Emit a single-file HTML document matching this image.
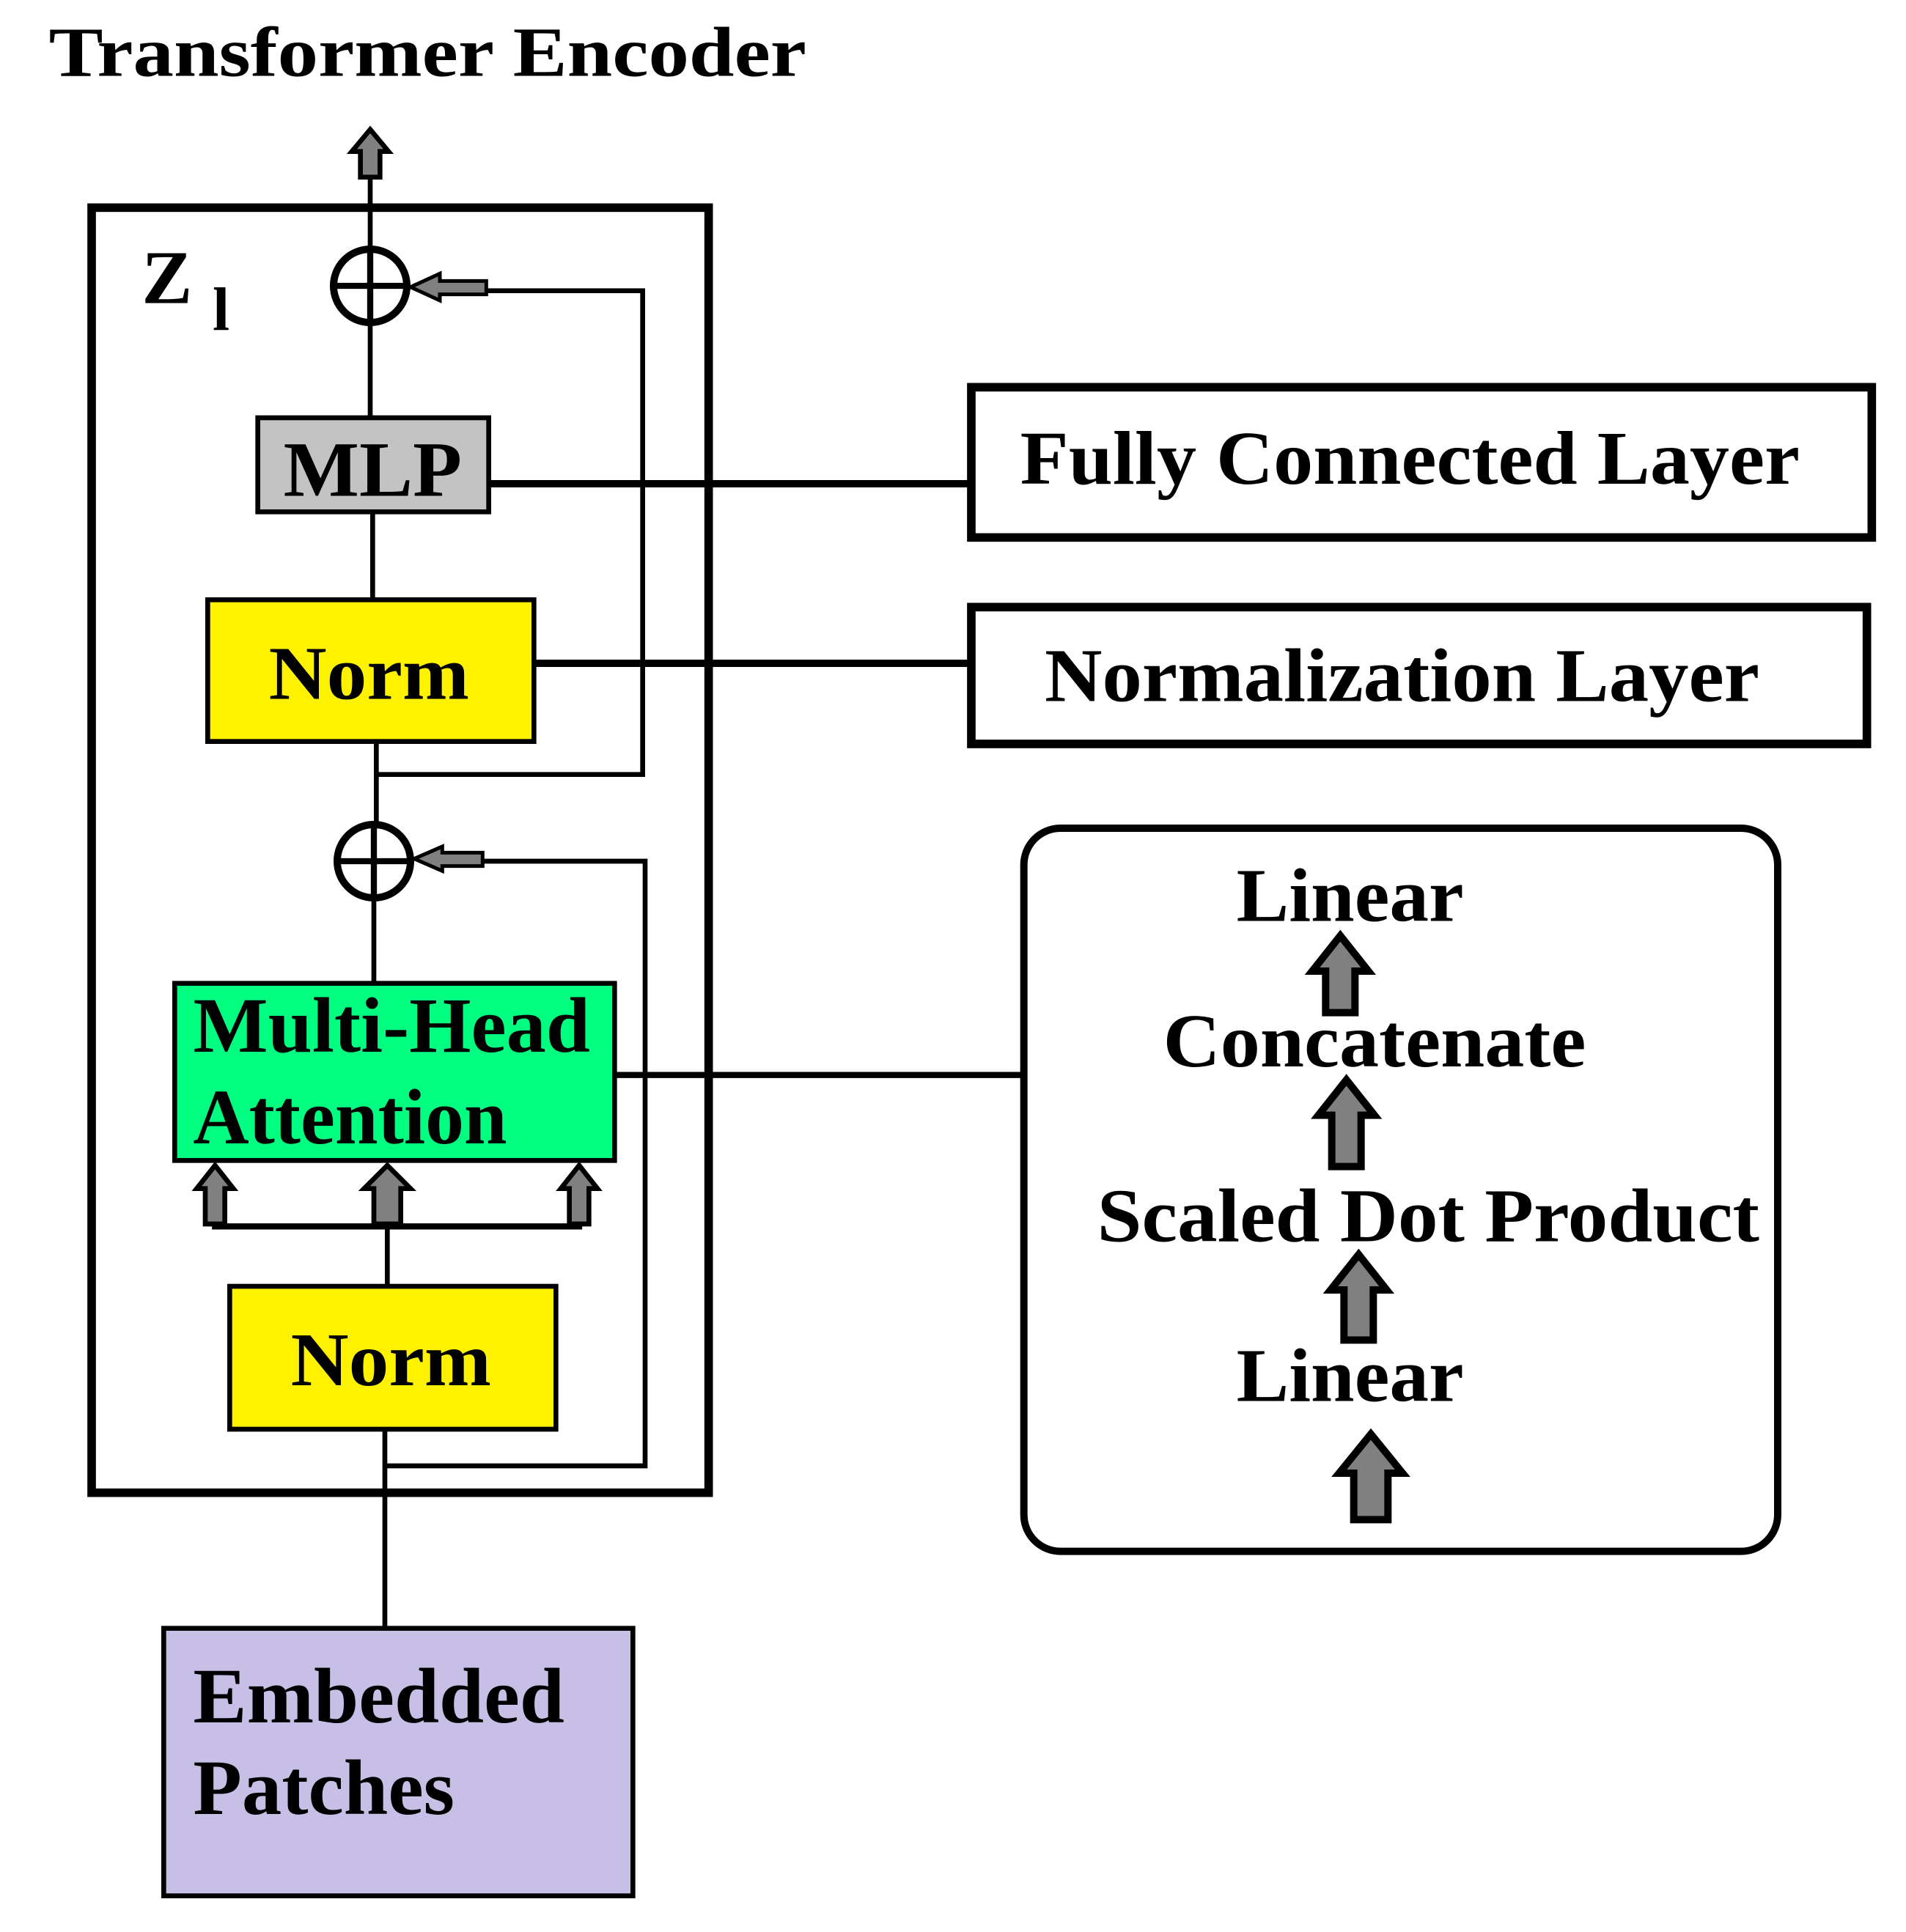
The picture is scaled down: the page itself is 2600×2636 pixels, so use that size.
<!DOCTYPE html>
<html><head><meta charset="utf-8"><style>
html,body{margin:0;padding:0;background:#fff;}
svg{display:block;}
text{font-family:"Liberation Serif",serif;font-weight:bold;fill:#000;}
</style></head><body>
<svg width="2600" height="2636" viewBox="0 0 1560 1581.6" xmlns="http://www.w3.org/2000/svg">
<rect width="1560" height="1582" fill="#fff"/>
<text x="40" y="62" font-size="58" textLength="620" lengthAdjust="spacingAndGlyphs">Transformer Encoder</text>
<!-- outer box -->
<rect x="75" y="170" width="505" height="1052" fill="none" stroke="#000" stroke-width="7"/>
<text x="116" y="248" font-size="62">Z</text>
<text x="174" y="270" font-size="50">l</text>
<!-- top line & arrow -->
<line x1="303" y1="145" x2="303" y2="204" stroke="#000" stroke-width="4"/>
<path d="M303,106 L318,124 L311,124 L311,145 L295,145 L295,124 L288,124 Z" fill="#808080" stroke="#000" stroke-width="4"/>
<!-- circle 1 -->
<circle cx="303" cy="234" r="30" fill="none" stroke="#000" stroke-width="6"/>
<line x1="303" y1="204" x2="303" y2="264" stroke="#000" stroke-width="5"/>
<line x1="273" y1="234" x2="333" y2="234" stroke="#000" stroke-width="5"/>
<polyline points="398,238 526,238 526,634 308,634" fill="none" stroke="#000" stroke-width="4"/>
<path d="M336,235 L360,224 L360,230 L398,230 L398,241 L360,241 L360,246 Z" fill="#808080" stroke="#000" stroke-width="3"/>
<line x1="303" y1="264" x2="303" y2="342" stroke="#000" stroke-width="4"/>
<!-- MLP -->
<rect x="211" y="342" width="189" height="77" fill="#c3c3c3" stroke="#000" stroke-width="4"/>
<text x="232" y="406" font-size="64" textLength="146" lengthAdjust="spacingAndGlyphs">MLP</text>
<line x1="305" y1="419" x2="305" y2="491" stroke="#000" stroke-width="4"/>
<line x1="400" y1="396" x2="795" y2="396" stroke="#000" stroke-width="6"/>
<!-- Norm 1 -->
<rect x="170" y="491" width="267" height="116" fill="#fff200" stroke="#000" stroke-width="4"/>
<text x="220" y="572" font-size="62" textLength="164" lengthAdjust="spacingAndGlyphs">Norm</text>
<line x1="437" y1="543" x2="795" y2="543" stroke="#000" stroke-width="6"/>
<!-- right boxes -->
<rect x="795" y="317" width="737" height="123" fill="#fff" stroke="#000" stroke-width="7"/>
<text x="835" y="396" font-size="62" textLength="638" lengthAdjust="spacingAndGlyphs">Fully Connected Layer</text>
<rect x="795" y="497" width="733" height="112" fill="#fff" stroke="#000" stroke-width="7"/>
<text x="855" y="574" font-size="62" textLength="585" lengthAdjust="spacingAndGlyphs">Normalization Layer</text>
<line x1="308" y1="607" x2="308" y2="675" stroke="#000" stroke-width="4"/>
<!-- circle 2 -->
<circle cx="306" cy="705" r="30" fill="none" stroke="#000" stroke-width="6"/>
<line x1="306" y1="675" x2="306" y2="735" stroke="#000" stroke-width="5"/>
<line x1="276" y1="705" x2="336" y2="705" stroke="#000" stroke-width="5"/>
<polyline points="395,705 528,705 528,1200 315,1200" fill="none" stroke="#000" stroke-width="4"/>
<path d="M339,703 L362,693 L362,698 L395,698 L395,709 L362,709 L362,713 Z" fill="#808080" stroke="#000" stroke-width="3"/>
<line x1="306" y1="735" x2="306" y2="805" stroke="#000" stroke-width="4"/>
<!-- MHA -->
<rect x="143" y="805" width="360" height="145" fill="#00ff80" stroke="#000" stroke-width="4"/>
<text x="158" y="861" font-size="64" textLength="325" lengthAdjust="spacingAndGlyphs">Multi-Head</text>
<text x="158" y="936" font-size="64" textLength="257" lengthAdjust="spacingAndGlyphs">Attention</text>
<line x1="503" y1="880" x2="838" y2="880" stroke="#000" stroke-width="5"/>
<!-- input arrows -->
<polyline points="176,1001 176,1004 474,1004 474,1001" fill="none" stroke="#000" stroke-width="5"/>
<line x1="317" y1="1004" x2="317" y2="1053" stroke="#000" stroke-width="4"/>
<path d="M176,954 L191,973 L184,973 L184,1002 L168,1002 L168,973 L161,973 Z" fill="#808080" stroke="#000" stroke-width="4"/>
<path d="M317,954 L336,973 L328,973 L328,1002 L306,1002 L306,973 L298,973 Z" fill="#808080" stroke="#000" stroke-width="4"/>
<path d="M474,954 L489,973 L482,973 L482,1002 L466,1002 L466,973 L459,973 Z" fill="#808080" stroke="#000" stroke-width="4"/>
<!-- Norm 2 -->
<rect x="188" y="1053" width="267" height="117" fill="#fff200" stroke="#000" stroke-width="4"/>
<text x="238" y="1134" font-size="62" textLength="164" lengthAdjust="spacingAndGlyphs">Norm</text>
<line x1="315" y1="1170" x2="315" y2="1333" stroke="#000" stroke-width="4"/>
<!-- Embedded patches -->
<rect x="134" y="1333" width="384" height="219" fill="#c8bfe7" stroke="#000" stroke-width="4"/>
<text x="158" y="1410" font-size="64" textLength="304" lengthAdjust="spacingAndGlyphs">Embedded</text>
<text x="158" y="1485" font-size="64" textLength="214" lengthAdjust="spacingAndGlyphs">Patches</text>
<!-- rounded box -->
<rect x="838" y="678" width="617" height="592" rx="30" ry="30" fill="#fff" stroke="#000" stroke-width="6"/>
<text x="1012" y="754" font-size="62" textLength="186" lengthAdjust="spacingAndGlyphs">Linear</text>
<text x="952" y="873" font-size="62" textLength="346" lengthAdjust="spacingAndGlyphs">Concatenate</text>
<text x="898" y="1016" font-size="62" textLength="542" lengthAdjust="spacingAndGlyphs">Scaled Dot Product</text>
<text x="1012" y="1147" font-size="62" textLength="186" lengthAdjust="spacingAndGlyphs">Linear</text>
<path d="M1097,766 L1120,795 L1109,795 L1109,829 L1085,829 L1085,795 L1074,795 Z" fill="#808080" stroke="#000" stroke-width="6"/>
<path d="M1102,884 L1125,913 L1114,913 L1114,955 L1090,955 L1090,913 L1079,913 Z" fill="#808080" stroke="#000" stroke-width="6"/>
<path d="M1112,1027 L1135,1056 L1124,1056 L1124,1097 L1100,1097 L1100,1056 L1089,1056 Z" fill="#808080" stroke="#000" stroke-width="6"/>
<path d="M1122,1174 L1148,1206 L1136,1206 L1136,1244 L1108,1244 L1108,1206 L1096,1206 Z" fill="#808080" stroke="#000" stroke-width="6"/>
</svg>
</body></html>
